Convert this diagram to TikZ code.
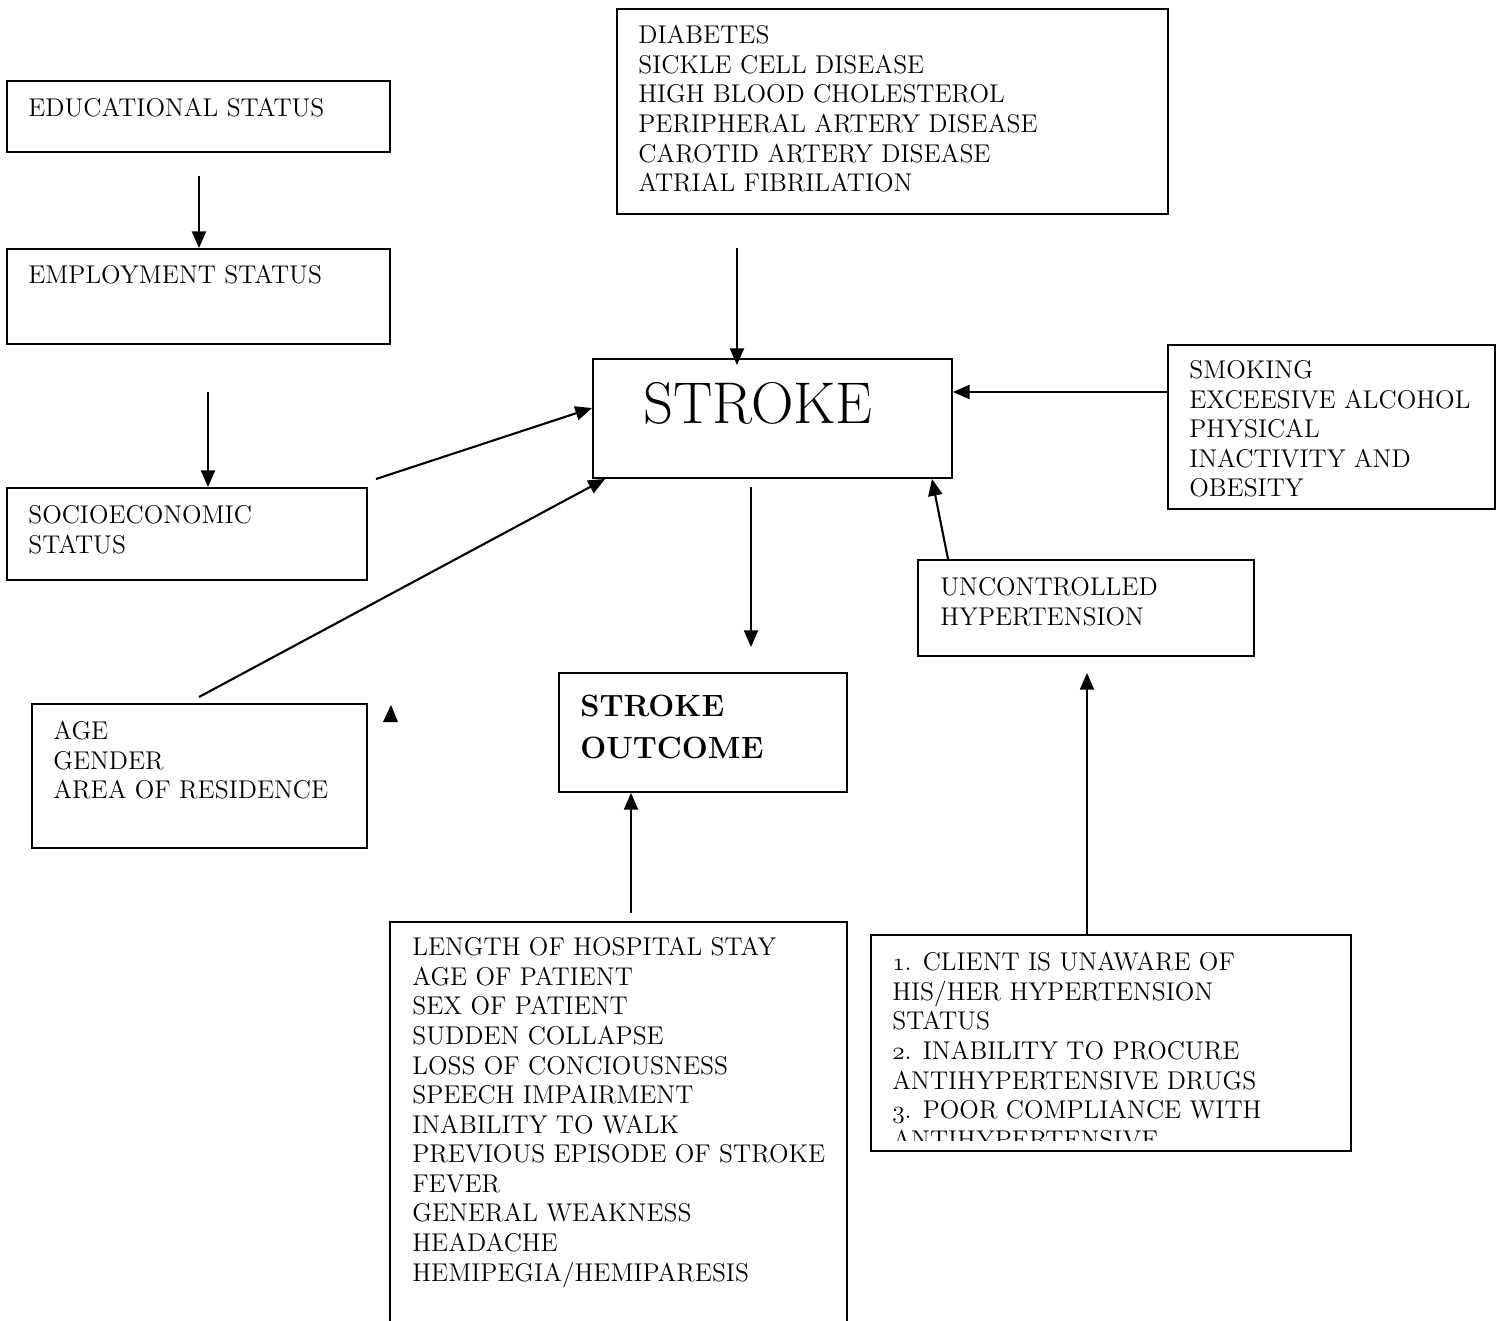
\documentclass[tikz,border=0pt]{standalone}
\usepackage{fontspec}
\usetikzlibrary{arrows.meta,fit}
\newcommand{\onum}[1]{$\mathnormal{#1}$}
\begin{document}
\begin{tikzpicture}[x=0.02cm,y=-0.02cm,
    box/.style={draw,line width=1.1pt,inner sep=0pt},
    txt/.style={anchor=north west,inner sep=0pt,align=left,
      font=\fontsize{14.6}{16.84}\selectfont},
    big/.style={anchor=north west,inner sep=0pt,
      font=\fontsize{33.5}{38}\selectfont},
    bold/.style={anchor=north west,inner sep=0pt,align=left,
      font=\fontsize{17.5}{24}\selectfont\bfseries},
    arrow/.style={-{Triangle[length=9.5pt,width=8pt]},line width=1.2pt}]

  \useasboundingbox (0,0) rectangle (1502,1320);

  % Define boxes
  \node[box,fit={(7,81)(390,152)}] (edu) {};
  \node[box,fit={(7,249)(390,344)}] (emp) {};
  \node[box,fit={(7,488)(367,580)}] (socio) {};
  \node[box,fit={(32,704)(367,848)}] (age) {};
  \node[box,fit={(617,9)(1168,214)}] (disease) {};
  \node[box,fit={(593,359)(952,478)}] (stroke) {};
  \node[box,fit={(1168,345)(1495,509)}] (life) {};
  \node[box,fit={(918,560)(1254,656)}] (unc) {};
  \node[box,fit={(559,673)(847,792)}] (outcome) {};
  \node[box,fit={(390,922)(847,1325)}] (sympt) {};
  \node[box,fit={(871,935)(1351,1151)}] (causes) {};

  % Box texts
  \node[txt] at (28,98) {EDUCATIONAL STATUS};
  \node[txt] at (28,265) {EMPLOYMENT STATUS};
  \node[txt] at (28,505) {SOCIOECONOMIC\\STATUS};
  \node[txt] at (53,721) {AGE\\GENDER\\AREA OF RESIDENCE};
  \node[txt] at (638,25) {DIABETES\\SICKLE CELL DISEASE\\HIGH BLOOD CHOLESTEROL\\
    PERIPHERAL ARTERY DISEASE\\CAROTID ARTERY DISEASE\\ATRIAL FIBRILATION};
  \node[big] at (643,382) {STROKE};
  \node[txt] at (1189,360) {SMOKING\\EXCEESIVE ALCOHOL\\PHYSICAL\\
    INACTIVITY AND\\OBESITY};
  \node[txt] at (940,577) {UNCONTROLLED\\HYPERTENSION};
  \node[bold] at (580,695) {STROKE\\OUTCOME};
  \node[txt] at (412,937) {LENGTH OF HOSPITAL STAY\\AGE OF PATIENT\\
    SEX OF PATIENT\\SUDDEN COLLAPSE\\LOSS OF CONCIOUSNESS\\
    SPEECH IMPAIRMENT\\INABILITY TO WALK\\PREVIOUS EPISODE OF STROKE\\
    FEVER\\GENERAL WEAKNESS\\HEADACHE\\HEMIPEGIA/HEMIPARESIS};
  \begin{scope}
    \clip (871,935) rectangle (1351,1140);
    \node[txt] at (892,952) {\onum{1}. CLIENT IS UNAWARE OF\\
      HIS/HER HYPERTENSION\\STATUS\\\onum{2}. INABILITY TO PROCURE\\
      ANTIHYPERTENSIVE DRUGS\\\onum{3}. POOR COMPLIANCE WITH\\
      ANTIHYPERTENSIVE};
  \end{scope}

  % Arrow tails
  \coordinate (edu tail) at (199,176);
  \coordinate (emp tail) at (208,392);
  \coordinate (socio tail) at (376,479);
  \coordinate (age tail) at (199,697);
  \coordinate (disease tail) at (737,248);
  \coordinate (stroke tail) at (751,487);
  \coordinate (outcome head) at (751,647);
  \coordinate (sympt tail) at (631,913);
  \coordinate (unc head) at (1087,673);

  % Draw arrows
  \path[arrow]
    (edu tail) edge (emp.north -| edu tail)
    (emp tail) edge (socio.north -| emp tail)
    (socio tail) edge (stroke.west |- 0,408)
    (age tail) edge (stroke.south -| 605,0)
    (disease tail) edge[shorten >=-0.14cm] (stroke.north -| disease tail)
    (life.west |- 0,392) edge (stroke.east |- 0,392)
    (unc.north -| 948,0) edge (stroke.south -| 932,0)
    (stroke tail) edge (outcome head)
    (sympt tail) edge (outcome.south -| sympt tail)
    (causes.north -| unc head) edge (unc head);

  % Stray arrowhead
  \fill (383,722) -- (398,722) -- (391,705) -- cycle;

\end{tikzpicture}
\end{document}
